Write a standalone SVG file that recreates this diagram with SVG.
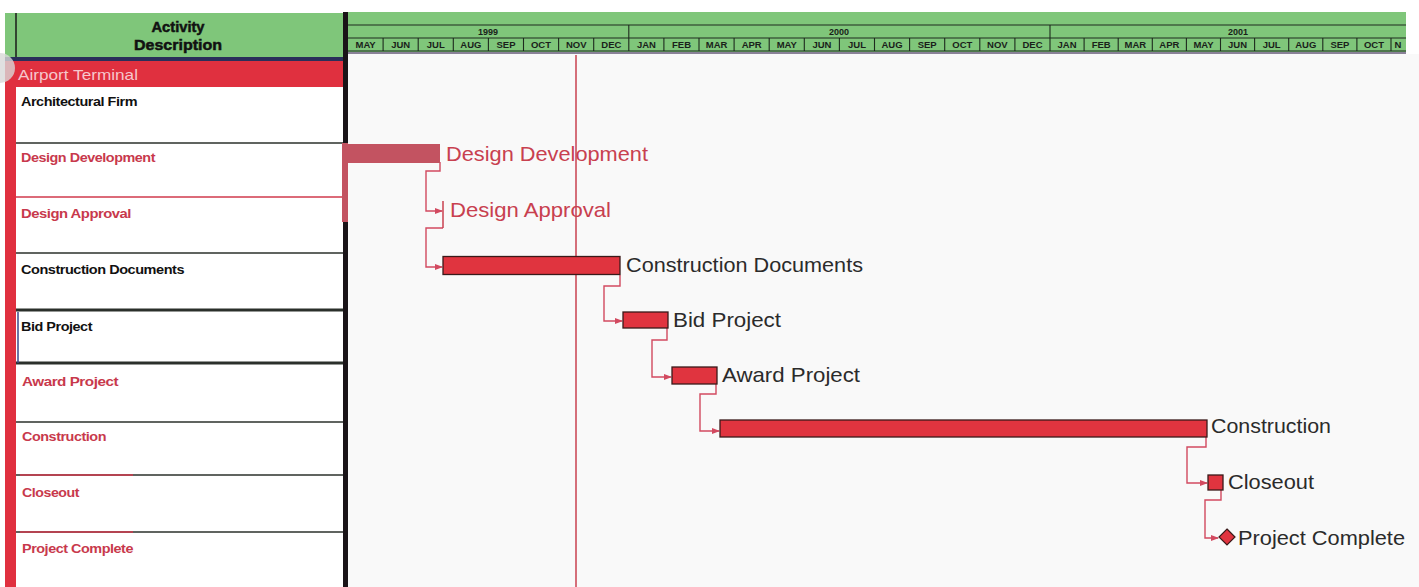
<svg xmlns="http://www.w3.org/2000/svg" width="1419" height="587" viewBox="0 0 1419 587">
<style>
.hdr{fill:#7fc67a}
.grid{stroke:#1e2a1e;stroke-width:1.1;fill:none}
.mon{font-family:"Liberation Sans",Arial,sans-serif;font-size:9.5px;font-weight:bold;fill:#1a1f1a;text-anchor:middle}
.yr{font-family:"Liberation Sans",Arial,sans-serif;font-size:9px;font-weight:bold;fill:#1a1f1a;text-anchor:middle}
.lt{font-family:"Liberation Sans",Arial,sans-serif;font-size:12.5px;font-weight:bold;letter-spacing:-0.4px}
.lr{fill:#c8394c}
.lb{fill:#111}
.rowline{stroke:#2b302b;stroke-width:1.5}
.lab{font-family:"Liberation Sans",Arial,sans-serif;font-size:21px}
.labr{fill:#c8404f}
.labd{fill:#2b2b2b}
.bar{fill:#e0343f;stroke:#3a1a1a;stroke-width:1.3}
.conn{fill:none;stroke:#d24a60;stroke-width:1.4}
</style>
<defs>
<marker id="arr" markerWidth="8" markerHeight="6" refX="7" refY="3" orient="auto" markerUnits="userSpaceOnUse">
<path d="M0,0 L8,3 L0,6 Z" fill="#d24a60"/>
</marker>
</defs>
<rect x="0" y="0" width="1419" height="587" fill="#ffffff"/>
<rect x="348" y="54" width="1071" height="533" fill="#f9f9f9"/>

<!-- left table -->
<g id="left-header">
<rect x="5" y="13" width="340" height="45" class="hdr"/>
<line x1="16" y1="13" x2="16" y2="58" stroke="#1a1a1a" stroke-width="1.5"/>
<rect x="5" y="57" width="340" height="4" fill="#2a2f5a"/>
<text x="178" y="32" text-anchor="middle" font-family="Liberation Sans, Arial, sans-serif" font-size="15" font-weight="900" fill="#111" stroke="#111" stroke-width="0.5" textLength="53" lengthAdjust="spacingAndGlyphs">Activity</text>
<text x="178" y="50" text-anchor="middle" font-family="Liberation Sans, Arial, sans-serif" font-size="15" font-weight="900" fill="#111" stroke="#111" stroke-width="0.5" textLength="88" lengthAdjust="spacingAndGlyphs">Description</text>
</g>
<g id="left-group">
<rect x="5" y="61" width="340" height="26" fill="#e0303f"/>
<rect x="5" y="61" width="11" height="526" fill="#e0303f"/>
<text x="18" y="80" font-family="Liberation Sans, Arial, sans-serif" font-size="15" fill="#f6c6cc" textLength="120" lengthAdjust="spacingAndGlyphs">Airport Terminal</text>
<circle cx="0" cy="68" r="15" fill="#d8d8d8" opacity="0.8"/>
</g>
<g id="left-rows">
<line x1="16" y1="143" x2="343" y2="143" class="rowline"/>
<line x1="16" y1="197" x2="343" y2="197" stroke="#d03a4c" stroke-width="1.5"/>
<line x1="16" y1="253" x2="343" y2="253" class="rowline"/>
<line x1="16" y1="310" x2="343" y2="310" stroke="#2b302b" stroke-width="3"/>
<line x1="16" y1="363" x2="343" y2="363" stroke="#2b302b" stroke-width="3"/>
<line x1="18" y1="312" x2="18" y2="363" stroke="#3a4a8a" stroke-width="1.5"/>
<line x1="16" y1="422" x2="343" y2="422" class="rowline"/>
<line x1="16" y1="475" x2="343" y2="475" class="rowline"/>
<line x1="20" y1="475" x2="133" y2="475" stroke="#d03a4c" stroke-width="1.5"/>
<line x1="16" y1="532" x2="343" y2="532" class="rowline"/>
<line x1="20" y1="532" x2="133" y2="532" stroke="#d03a4c" stroke-width="1.5"/>
<text x="21" y="106" class="lt lb" textLength="116" lengthAdjust="spacingAndGlyphs">Architectural Firm</text>
<text x="21" y="162" class="lt lr" textLength="134" lengthAdjust="spacingAndGlyphs">Design Development</text>
<text x="21" y="218" class="lt lr" textLength="110" lengthAdjust="spacingAndGlyphs">Design Approval</text>
<text x="21" y="274" class="lt lb" textLength="163" lengthAdjust="spacingAndGlyphs">Construction Documents</text>
<text x="21" y="331" class="lt lb" textLength="71" lengthAdjust="spacingAndGlyphs">Bid Project</text>
<text x="22" y="386" class="lt lr" textLength="96" lengthAdjust="spacingAndGlyphs">Award Project</text>
<text x="22" y="441" class="lt lr" textLength="84" lengthAdjust="spacingAndGlyphs">Construction</text>
<text x="22" y="497" class="lt lr" textLength="57" lengthAdjust="spacingAndGlyphs">Closeout</text>
<text x="22" y="553" class="lt lr" textLength="111" lengthAdjust="spacingAndGlyphs">Project Complete</text>
</g>

<!-- timeline header -->
<g id="timeline-header">
<rect x="348" y="12" width="1058" height="40" class="hdr"/>
<line x1="348" y1="25" x2="1406" y2="25" class="grid"/>
<line x1="348" y1="38" x2="1406" y2="38" class="grid"/>
<line x1="348" y1="51" x2="1406" y2="51" class="grid"/>
<rect x="348" y="52" width="1058" height="2" fill="#8a8298"/>
<line x1="628.8" y1="25" x2="628.8" y2="38" class="grid"/>
<line x1="1050" y1="25" x2="1050" y2="38" class="grid"/>
<text x="488" y="35" class="yr">1999</text>
<text x="839" y="35" class="yr">2000</text>
<text x="1238" y="35" class="yr">2001</text>
<path class="grid" d="M383.1,38V51M418.2,38V51M453.3,38V51M488.4,38V51M523.5,38V51M558.6,38V51M593.7,38V51M628.8,38V51M663.9,38V51M699,38V51M734.1,38V51M769.2,38V51M804.3,38V51M839.4,38V51M874.5,38V51M909.6,38V51M944.7,38V51M979.8,38V51M1014.9,38V51M1050,38V51M1084.1,38V51M1118.2,38V51M1152.3,38V51M1186.4,38V51M1220.5,38V51M1254.6,38V51M1288.7,38V51M1322.8,38V51M1356.9,38V51M1391,38V51"/>
<text x="365.6" y="48" class="mon">MAY</text>
<text x="400.7" y="48" class="mon">JUN</text>
<text x="435.8" y="48" class="mon">JUL</text>
<text x="470.9" y="48" class="mon">AUG</text>
<text x="506" y="48" class="mon">SEP</text>
<text x="541" y="48" class="mon">OCT</text>
<text x="576.2" y="48" class="mon">NOV</text>
<text x="611.3" y="48" class="mon">DEC</text>
<text x="646.4" y="48" class="mon">JAN</text>
<text x="681.5" y="48" class="mon">FEB</text>
<text x="716.6" y="48" class="mon">MAR</text>
<text x="751.7" y="48" class="mon">APR</text>
<text x="786.8" y="48" class="mon">MAY</text>
<text x="821.9" y="48" class="mon">JUN</text>
<text x="857" y="48" class="mon">JUL</text>
<text x="892" y="48" class="mon">AUG</text>
<text x="927.2" y="48" class="mon">SEP</text>
<text x="962.3" y="48" class="mon">OCT</text>
<text x="997.4" y="48" class="mon">NOV</text>
<text x="1032.5" y="48" class="mon">DEC</text>
<text x="1067" y="48" class="mon">JAN</text>
<text x="1101.2" y="48" class="mon">FEB</text>
<text x="1135.3" y="48" class="mon">MAR</text>
<text x="1169.4" y="48" class="mon">APR</text>
<text x="1203.5" y="48" class="mon">MAY</text>
<text x="1237.6" y="48" class="mon">JUN</text>
<text x="1271.7" y="48" class="mon">JUL</text>
<text x="1305.8" y="48" class="mon">AUG</text>
<text x="1339.9" y="48" class="mon">SEP</text>
<text x="1374" y="48" class="mon">OCT</text>
<text x="1398" y="48" class="mon">N</text>
</g>

<!-- divider -->
<rect x="343" y="12" width="5" height="575" fill="#1a1418"/>
<rect x="342" y="143" width="6" height="79" fill="#c35361"/>

<!-- today line -->
<line id="today" x1="576" y1="55" x2="576" y2="587" stroke="#c8404f" stroke-width="1.5"/>

<!-- connectors -->
<g id="connectors">
<path class="conn" d="M440,162 V171 H426 V211 H442" marker-end="url(#arr)"/>
<path class="conn" d="M443,228 H426 V267 H442" marker-end="url(#arr)"/>
<path class="conn" d="M620,275 V286 H604 V321 H622" marker-end="url(#arr)"/>
<path class="conn" d="M667,328 V340 H652 V377 H671" marker-end="url(#arr)"/>
<path class="conn" d="M716,384 V394 H700 V431 H719" marker-end="url(#arr)"/>
<path class="conn" d="M1206,436 V447 H1187 V483 H1207" marker-end="url(#arr)"/>
<path class="conn" d="M1221,490 V500 H1205 V538 H1218" marker-end="url(#arr)"/>
</g>

<!-- tasks -->
<g id="task-design-development">
<rect x="348" y="144" width="92" height="19" fill="#c35361"/>
<text x="446" y="161" class="lab labr" textLength="202" lengthAdjust="spacingAndGlyphs">Design Development</text>
</g>
<g id="task-design-approval">
<line x1="443" y1="201" x2="443" y2="228" stroke="#c8404f" stroke-width="1.5"/>
<text x="450" y="217" class="lab labr" textLength="161" lengthAdjust="spacingAndGlyphs">Design Approval</text>
</g>
<g id="task-construction-documents">
<rect x="443" y="256.5" width="177" height="18" class="bar"/>
<text x="626" y="272" class="lab labd" textLength="237" lengthAdjust="spacingAndGlyphs">Construction Documents</text>
</g>
<g id="task-bid-project">
<rect x="623" y="312" width="45" height="16" class="bar"/>
<text x="673" y="327" class="lab labd" textLength="108" lengthAdjust="spacingAndGlyphs">Bid Project</text>
</g>
<g id="task-award-project">
<rect x="672" y="367" width="45" height="17" class="bar"/>
<text x="722" y="382" class="lab labd" textLength="138" lengthAdjust="spacingAndGlyphs">Award Project</text>
</g>
<g id="task-construction">
<rect x="720" y="420" width="487" height="17" class="bar"/>
<text x="1211" y="433" class="lab labd" textLength="120" lengthAdjust="spacingAndGlyphs">Construction</text>
</g>
<g id="task-closeout">
<rect x="1208" y="475" width="15" height="15" class="bar"/>
<text x="1228" y="489" class="lab labd" textLength="86" lengthAdjust="spacingAndGlyphs">Closeout</text>
</g>
<g id="task-project-complete">
<path d="M1227,529 L1235,537 L1227,545 L1219,537 Z" fill="#e0343f" stroke="#3a1a1a" stroke-width="1.2"/>
<text x="1238" y="545" class="lab labd" textLength="167" lengthAdjust="spacingAndGlyphs">Project Complete</text>
</g>
</svg>
